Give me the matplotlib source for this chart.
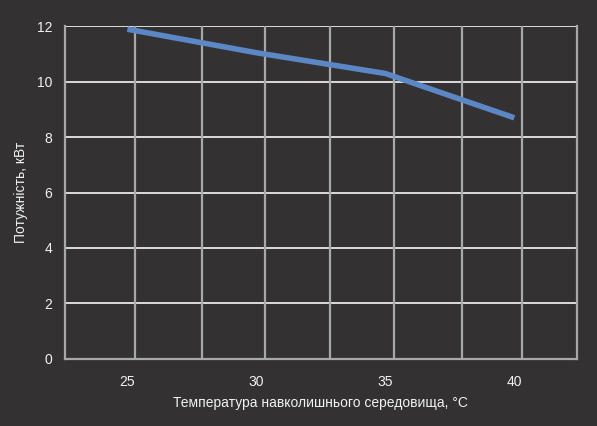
import matplotlib
matplotlib.use("Agg")
import matplotlib.pyplot as plt

# Data
temperature = [25, 30, 35, 40]
power_kw = [11.9, 11.05, 10.3, 8.7]
x_ticks = [25, 30, 35, 40]
y_ticks = [0, 2, 4, 6, 8, 10, 12]
x_grid = [25.31, 27.90, 30.33, 32.85, 35.32, 37.98, 40.31]

x_label = "Температура навколишнього середовища, °C"
y_label = "Потужність, кВт"

bg = "#333132"
txt = "#f2f2f2"

plt.rcParams['font.family'] = ['Liberation Sans', 'DejaVu Sans']

fig = plt.figure(figsize=(5.97, 4.26), dpi=100, facecolor=bg)
ax = fig.add_axes([0.1084, 0.158, 0.8581, 0.780])
ax.set_facecolor(bg)

ax.set_xlim(22.57, 42.43)
ax.set_ylim(0, 12)

# grid
for yv in y_ticks:
    ax.axhline(yv, color="#e8e8e8", lw=1.3, zorder=1)
for xv in x_grid:
    ax.axvline(xv, color="#a8a8a8", lw=1.6, zorder=1)

ax.plot(temperature, power_kw, color="#5b87c4", lw=4.0, solid_joinstyle="round",
        solid_capstyle="butt", zorder=3)

ax.spines["top"].set_visible(False)
for side in ["left", "bottom", "right"]:
    ax.spines[side].set_color("#a8a8a8")
    ax.spines[side].set_linewidth(1.6)

ax.set_xticks(x_ticks)
ax.set_yticks(y_ticks)
ax.tick_params(axis="both", length=0, colors=txt, labelsize=10)
ax.tick_params(axis="x", pad=12)
ax.tick_params(axis="y", pad=9)

ax.set_xlabel(x_label, color=txt, fontsize=10, labelpad=5)
ax.set_ylabel(y_label, color=txt, fontsize=10, labelpad=6)

fig.savefig("out.png", dpi=100, facecolor=bg)
